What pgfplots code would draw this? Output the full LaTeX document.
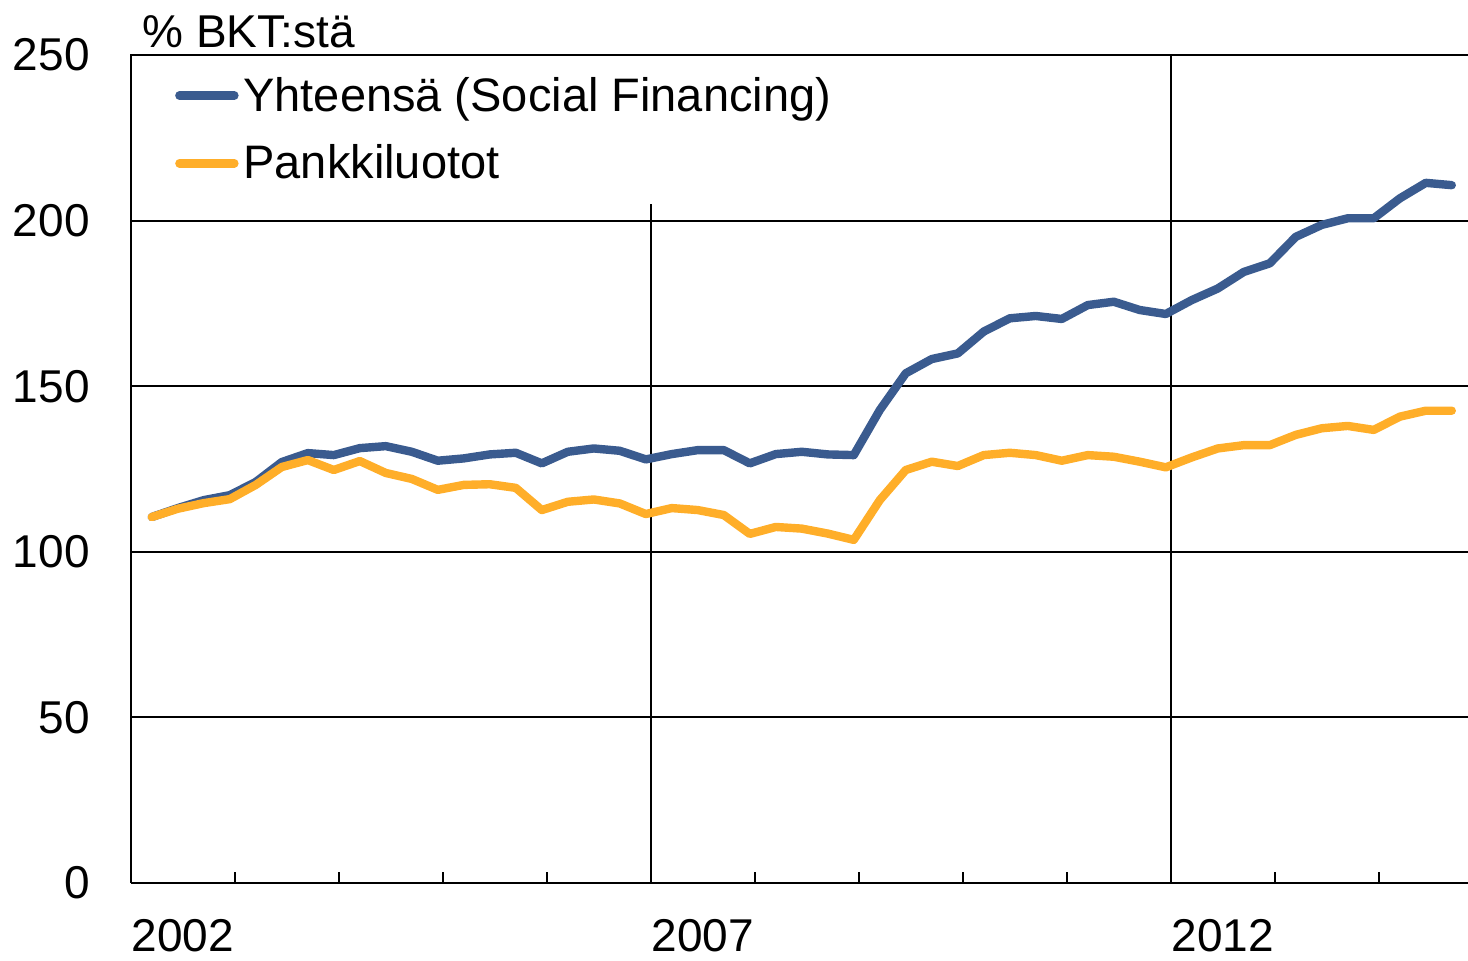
\documentclass[border=0pt]{standalone}
\usepackage{pgfplots}
\pgfplotsset{compat=1.18}
\usepackage{pgfplotstable}
\usepackage{fontspec}
\setmainfont{Liberation Sans}
\definecolor{sfblue}{HTML}{3A5B8F}
\definecolor{sforange}{HTML}{FFAE29}
\pgfplotstableread{
n blue orange
0 110.5 110.5
1 113.2 113.0
2 115.6 114.7
3 117.1 115.9
4 121.1 120.2
5 127.1 125.6
6 129.8 127.7
7 129.2 124.7
8 131.3 127.4
9 131.9 123.8
10 130.2 122.0
11 127.5 118.7
12 128.2 120.2
13 129.4 120.4
14 129.9 119.3
15 126.7 112.6
16 130.2 115.1
17 131.2 115.8
18 130.5 114.6
19 127.9 111.4
20 129.5 113.2
21 130.7 112.6
22 130.7 111.1
23 126.7 105.4
24 129.5 107.5
25 130.2 107.0
26 129.4 105.5
27 129.2 103.6
28 142.8 115.6
29 153.9 124.7
30 158.2 127.2
31 159.9 125.9
32 166.5 129.2
33 170.5 129.9
34 171.2 129.2
35 170.3 127.5
36 174.5 129.2
37 175.5 128.7
38 173.0 127.2
39 171.8 125.5
40 176.0 128.5
41 179.5 131.2
42 184.5 132.2
43 187.1 132.2
44 195.1 135.3
45 198.7 137.3
46 200.7 138.0
47 200.7 136.8
48 206.7 140.8
49 211.4 142.6
50 210.7 142.6
}\datatable
\newcommand{\chartfont}{\fontsize{23}{27}\selectfont}
\newcommand{\legendfont}{\fontsize{23.5}{27}\selectfont}
\begin{document}
\begin{tikzpicture}
\useasboundingbox (0,0) rectangle (734pt,480pt);
\begin{axis}[
  name=ax,
  at={(65.5pt,38.5pt)}, anchor=south west,
  scale only axis, width=668.5pt, height=414pt,
  xmin=2002, xmax=2014.856, ymin=0, ymax=250,
  axis line style={draw=none},
  /pgf/number format/assume math mode=true,
  ytick={0,50,...,250},
  ymajorgrids,
  grid style={black, line width=1pt},
  major tick length=0pt,
  minor tick length=5.5pt,
  xtick pos=bottom, ytick pos=left,
  tick align=inside,
  minor tick style={black, line width=1pt},
  xtick={2002.5,2007.5,2012.5},
  xticklabels={2002,2007,2012},
  minor xtick={2003,2004,...,2014},
  extra x ticks={2007,2012},
  extra x tick labels={},
  extra x tick style={grid=major},
  yticklabel style={font=\chartfont, anchor=east, inner sep=0pt, xshift=-20.5pt},
  xticklabel style={font=\chartfont, anchor=north, inner sep=0pt, yshift=-18pt},
  legend style={at={(0,1)}, anchor=north west, fill=white, draw=none,
    inner xsep=0pt, inner ysep=10.8pt, row sep=15.4pt, font=\legendfont,
    nodes={inner sep=0pt}, cells={anchor=west}},
  legend image code/.code={\path[draw=none, fill=none] (0pt,-2pt) rectangle (56pt,2pt);
    \draw[#1, line width=4.2pt, line cap=round] (24pt,0pt) -- (51.5pt,0pt);},
]
\addplot[sfblue, line width=4.2pt, line join=round, line cap=round]
  table[x expr=2002.2+0.25*\thisrow{n}, y=blue]{\datatable};
\addlegendentry{Yhteensä (Social Financing)}
\addplot[sforange, line width=4.2pt, line join=round, line cap=round]
  table[x expr=2002.2+0.25*\thisrow{n}, y=orange]{\datatable};
\addlegendentry{Pankkiluotot}
\end{axis}
\draw[line width=1pt] (ax.south west) -- (ax.north west) -- (ax.north east);
\draw[line width=1pt] (ax.south west) -- (ax.south east);
\node[anchor=base west, font=\chartfont, inner sep=0pt] at ([xshift=5.5pt, yshift=3.75pt]ax.north west) {\% BKT:stä};
\end{tikzpicture}
\end{document}
